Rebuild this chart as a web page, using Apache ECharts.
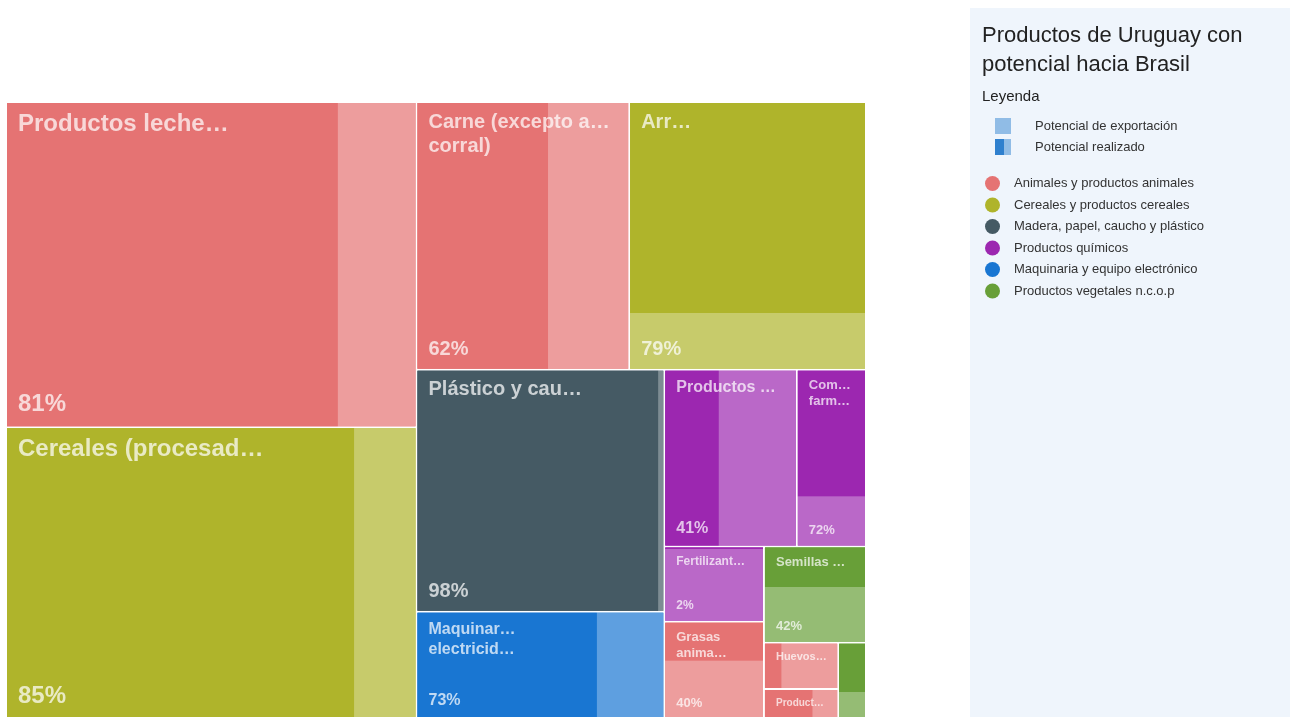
<!DOCTYPE html>
<html>
<head>
<meta charset="utf-8">
<script src="https://cdn.jsdelivr.net/npm/echarts@6/dist/echarts.min.js"></script>
<style>
html,body{margin:0;padding:0;background:#fff;}
#main{width:1290px;height:717px;}
</style>
</head>
<body>
<div id="main"></div>
<script>
// ---------------- data ----------------
const titleText = 'Productos de Uruguay con\npotencial hacia Brasil';
const legendTitle = 'Leyenda';
const legendKeys = ['Potencial de exportación', 'Potencial realizado'];
const categories = [
  'Animales y productos animales',
  'Cereales y productos cereales',
  'Madera, papel, caucho y plástico',
  'Productos químicos',
  'Maquinaria y equipo electrónico',
  'Productos vegetales n.c.o.p'
];
const products = [
  'Productos leche…',
  'Cereales (procesad…',
  'Carne (excepto aves…\ncorral)',
  'Arr…',
  'Plástico y cau…',
  'Maquinar…\nelectricid…',
  'Productos quími…',
  'Componentes\nfarmaceútic…',
  'Fertilizant…',
  'Grasas\nanima…',
  'Semillas oleagino…',
  'Huevos,…',
  'Product…',
  'A…'
];
const productCategory = [0, 1, 0, 1, 2, 4, 3, 3, 3, 0, 5, 0, 0, 5];
const exportPotential = [132.0, 118.5, 56.3, 62.7, 59.3, 26.3, 23.2, 12.1, 7.4, 9.6, 9.7, 3.4, 2.2, 2.1];
const realizedPct = [81, 85, 62, 79, 98, 73, 41, 72, 2, 40, 42, 23, 66, 65];

// ---------------- styles ----------------
const palette = ['#E57373', '#AFB42B', '#455A64', '#9C27B0', '#1976D2', '#689F38'];
const FONT = '"Liberation Sans", Arial, Helvetica, sans-serif';
const LABEL_COLOR = 'rgba(255,255,255,0.72)';
const CLEAR = 'rgba(255,255,255,0)';

function lighten(hex, a) {
  const n = parseInt(hex.slice(1), 16);
  const r = (n >> 16) & 255, g = (n >> 8) & 255, b = n & 255;
  const m = c => Math.round(c * a + 255 * (1 - a));
  return 'rgb(' + m(r) + ',' + m(g) + ',' + m(b) + ')';
}
const total = exportPotential.reduce((s, v) => s + v, 0);
function fontSizeFor(v) { return Math.round(Math.min(24, 8 + 36 * Math.sqrt(v / total))); }

const chart = echarts.init(document.getElementById('main'));

const box = { left: 7, top: 103, width: 858, height: 615 };
function baseTreemap(z, rootBorder, nodeBorder) {
  return Object.assign({
    type: 'treemap',
    z: z,
    roam: false,
    nodeClick: false,
    sort: false,
    visibleMin: 0,
    animation: false,
    breadcrumb: { show: false },
    upperLabel: { show: false },
    levels: [
      { itemStyle: { gapWidth: 2, borderWidth: 0, borderColor: rootBorder } },
      { itemStyle: { gapWidth: 0, borderWidth: 0, borderColor: nodeBorder } },
      { itemStyle: { gapWidth: 0, borderWidth: 0 } }
    ]
  }, box);
}

const shapeSeries = Object.assign(baseTreemap(2, '#fff', '#fff'), {
  label: { show: false },
  data: products.map((name, i) => {
    const dark = palette[productCategory[i]];
    const lt = lighten(dark, 0.7);
    const v = exportPotential[i];
    return {
      name: name,
      value: v,
      itemStyle: { color: lt, borderColor: lt },
      children: [
        { name: name + ' (realizado)', value: v * realizedPct[i] / 100, itemStyle: { color: dark, borderColor: dark } },
        { name: name + ' (pendiente)', value: v * (100 - realizedPct[i]) / 100, itemStyle: { color: lt, borderColor: lt } }
      ]
    };
  })
});

const labelBase = {
  show: true,
  distance: 0,
  padding: [7, 11, 7, 11],
  color: LABEL_COLOR,
  opacity: 1,
  fontWeight: 'bold',
  fontFamily: FONT,
  overflow: 'truncate',
  ellipsis: '…'
};

function pctText(p) {
  return (p && p.data && p.data.realized != null) ? p.data.realized + '%' : '';
}

const nameSeries = Object.assign(baseTreemap(10, CLEAR, CLEAR), {
  label: Object.assign({}, labelBase, { position: 'insideTopLeft' }),
  data: products.map((name, i) => {
    const fs = fontSizeFor(exportPotential[i]);
    return { name: name, value: exportPotential[i], itemStyle: { color: CLEAR, borderColor: CLEAR }, label: { fontSize: fs, lineHeight: Math.round(fs * 1.22) } };
  })
});

const pctSeries = Object.assign(baseTreemap(11, CLEAR, CLEAR), {
  label: Object.assign({}, labelBase, { position: 'insideBottomLeft', formatter: pctText }),
  data: products.map((name, i) => {
    const fs = fontSizeFor(exportPotential[i]);
    return { name: name, value: exportPotential[i], realized: realizedPct[i], itemStyle: { color: CLEAR, borderColor: CLEAR }, label: { fontSize: fs, lineHeight: Math.round(fs * 1.22) } };
  })
});

// ---------------- legend panel (graphic) ----------------
const PX = 970, PY = 8;
const graphics = [
  { type: 'rect', shape: { x: PX, y: PY, width: 320, height: 717 - PY }, style: { fill: '#EFF5FC' }, silent: true },
  { type: 'text', x: 982, y: 21, style: { text: titleText, fill: '#222', font: '22px ' + FONT, lineHeight: 29 } },
  { type: 'text', x: 982, y: 97, style: { text: legendTitle, fill: '#222', font: '15px ' + FONT, verticalAlign: 'middle' } },
  { type: 'rect', shape: { x: 995, y: 118, width: 16, height: 16 }, style: { fill: '#90BCE6' } },
  { type: 'text', x: 1035, y: 126.5, style: { text: legendKeys[0], fill: '#333', font: '13px ' + FONT, verticalAlign: 'middle' } },
  { type: 'rect', shape: { x: 995, y: 139, width: 16, height: 16 }, style: { fill: '#90BCE6' } },
  { type: 'rect', shape: { x: 995, y: 139, width: 9, height: 16 }, style: { fill: '#2F80CE' } },
  { type: 'text', x: 1035, y: 147.5, style: { text: legendKeys[1], fill: '#333', font: '13px ' + FONT, verticalAlign: 'middle' } }
];
categories.forEach((c, i) => {
  const cy = 183.5 + i * 21.5;
  graphics.push({ type: 'circle', shape: { cx: 992.5, cy: cy, r: 7.5 }, style: { fill: palette[i] } });
  graphics.push({ type: 'text', x: 1014, y: cy, style: { text: c, fill: '#333', font: '13px ' + FONT, verticalAlign: 'middle' } });
});

chart.setOption({
  backgroundColor: '#fff',
  animation: false,
  graphic: { elements: graphics },
  series: [shapeSeries, nameSeries, pctSeries]
});

// Hide the percentage where the laid-out cell has no room for it under the name
try {
  const pctModel = chart.getModel().getSeriesByIndex(2);
  const tree = pctModel.getData().tree;
  const hide = [];
  tree.root.children.forEach((node, i) => {
    const lay = node.getLayout();
    const fs = fontSizeFor(exportPotential[i]);
    const lh = Math.round(fs * 1.22);
    const lines = products[i].split('\n').length;
    const need = 14 + lines * lh + lh + fs;
    if (!lay || lay.height < need) hide.push(i);
  });
  if (hide.length) {
    pctSeries.data = pctSeries.data.map((d, i) => hide.indexOf(i) >= 0 ? Object.assign({}, d, { label: Object.assign({}, d.label, { show: false }) }) : d);
    chart.setOption({ series: [shapeSeries, nameSeries, pctSeries] });
  }
} catch (e) { console.error(e); }
</script>
</body>
</html>
